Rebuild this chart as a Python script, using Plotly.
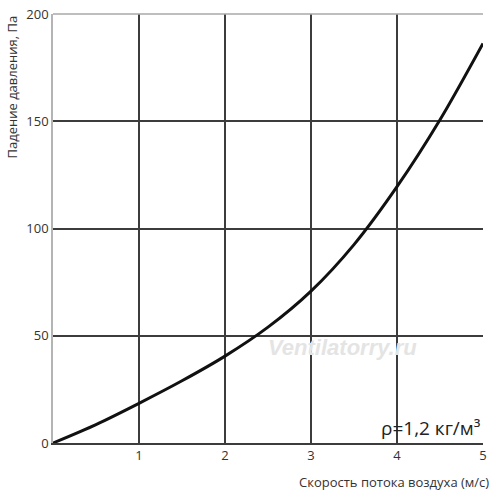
import plotly.graph_objects as go

speed = [0, 0.5, 1, 1.5, 2, 2.5, 3, 3.5, 4, 4.5, 5]
pressure = [0, 8.6, 18.5, 29, 40.5, 54, 70.8, 92.5, 119.5, 150.7, 186.3]

x_ticks = [1, 2, 3, 4, 5]
y_ticks = [0, 50, 100, 150, 200]

font = "Open Sans, Liberation Sans, sans-serif"

fig = go.Figure()
fig.add_trace(go.Scatter(
    x=speed, y=pressure, mode="lines",
    line=dict(color="#111111", width=3, shape="spline", smoothing=0.9),
    hoverinfo="skip", showlegend=False,
))

fig.update_layout(
    width=500, height=496, autosize=False,
    margin=dict(l=53, r=17, t=14, b=53),
    paper_bgcolor="white", plot_bgcolor="white",
    font=dict(family=font, size=13, color="#333333"),
    xaxis=dict(
        range=[0, 5], tickvals=x_ticks, ticktext=[str(v) for v in x_ticks],
        showgrid=True, gridcolor="#3c3c3c", gridwidth=1.5,
        showline=True, linecolor="#3c3c3c", linewidth=1.5,
        zeroline=False, ticks="", ticklen=0, automargin=False,
    ),
    yaxis=dict(
        range=[0, 200], tickvals=y_ticks, ticktext=[str(v) for v in y_ticks],
        showgrid=True, gridcolor="#3c3c3c", gridwidth=1.5,
        showline=True, linecolor="#b4b4b4", linewidth=1.5,
        zeroline=False, ticks="", ticklen=0, automargin=False,
    ),
    shapes=[dict(type="line", xref="paper", yref="paper", x0=0, x1=1, y0=1, y1=1,
                 line=dict(color="#a8a8a8", width=1.5), layer="above")],
    annotations=[
        dict(text="Падение давления, Па", xref="paper", yref="paper",
             x=-53/430, y=1.0, xanchor="left", yanchor="top", textangle=-90,
             showarrow=False, font=dict(size=13, color="#333333")),
        dict(text="Скорость потока воздуха (м/с)", xref="paper", yref="paper",
             x=1.018, y=-39/429, xanchor="right", yanchor="middle",
             showarrow=False, font=dict(size=13, color="#333333")),
        dict(text="ρ=1,2 кг/м³", xref="paper", yref="paper",
             x=1.0, y=15/429, xanchor="right", yanchor="middle",
             showarrow=False, font=dict(size=19, color="#222222")),
        dict(text="<i><b>Ventilatorry.ru</b></i>", xref="paper", yref="paper",
             x=(342-53)/430, y=(443-347)/429, xanchor="center", yanchor="middle",
             showarrow=False,
             font=dict(size=22, color="#e4e4e4", family="Liberation Sans Narrow, Liberation Sans, sans-serif")),
    ],
)

fig.write_html("out.html", config={"displayModeBar": False},
               post_script="document.body.style.margin='0';document.body.style.padding='0';")
